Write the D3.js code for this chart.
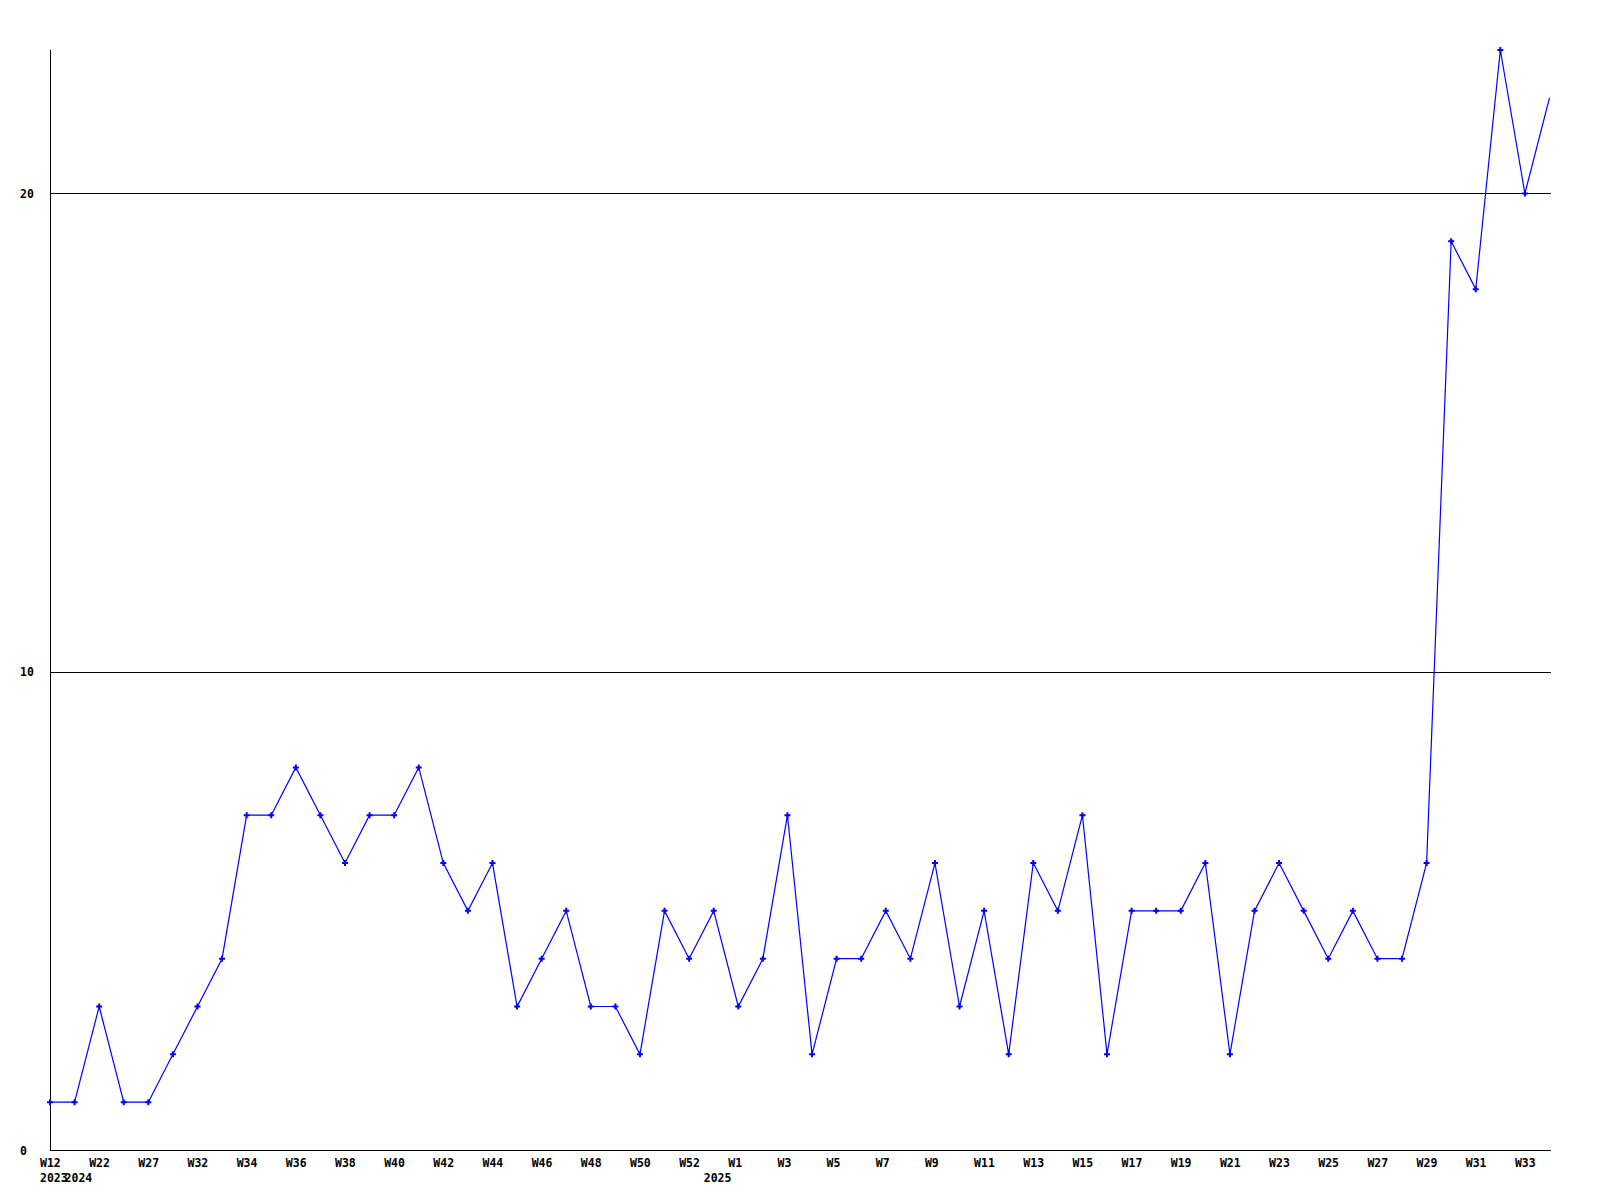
<!DOCTYPE html>
<html>
<head>
<meta charset="utf-8">
<script src="https://cdn.jsdelivr.net/npm/d3@7"></script>
<style>
  html, body { margin: 0; padding: 0; background: #ffffff; }
  svg { display: block; }
  text { font-family: "DejaVu Sans Mono", "Liberation Mono", monospace; font-weight: bold; font-size: 11.5px; fill: #000; }
</style>
</head>
<body>
<svg id="chart" width="1600" height="1200"></svg>
<script>
// ---- data ----
const values = [1, 1, 3, 1, 1, 2, 3, 4, 7, 7, 8, 7, 6, 7, 7, 8, 6, 5, 6, 3,
                4, 5, 3, 3, 2, 5, 4, 5, 3, 4, 7, 2, 4, 4, 5, 4, 6, 3, 5, 2,
                6, 5, 7, 2, 5, 5, 5, 6, 2, 5, 6, 5, 4, 5, 4, 4, 6, 19, 18, 23,
                20, 22];
const weekTickIndex = [0, 2, 4, 6, 8, 10, 12, 14, 16, 18, 20, 22, 24, 26, 28, 30,
                       32, 34, 36, 38, 40, 42, 44, 46, 48, 50, 52, 54, 56, 58, 60];
const weekTickLabels = ["W12", "W22", "W27", "W32", "W34", "W36", "W38", "W40", "W42", "W44",
                        "W46", "W48", "W50", "W52", "W1", "W3", "W5", "W7", "W9", "W11",
                        "W13", "W15", "W17", "W19", "W21", "W23", "W25", "W27", "W29", "W31", "W33"];
const yearTickIndex = [0, 1, 27];
const yearTickLabels = ["2023", "2024", "2025"];
const yTicks = [0, 10, 20];
const yMax = 23;

// ---- layout ----
const mLeft = 50, mRight = 1551, mTop = 50, mBottom = 1150;
const lastX = 1549.5;
const svg = d3.select("#chart");

const x = d3.scaleLinear().domain([0, values.length - 1]).range([mLeft, lastX]);
const y = d3.scaleLinear().domain([0, yMax]).range([mBottom, mTop]);

// gridlines
svg.append("g")
  .selectAll("line")
  .data(yTicks.filter(d => d > 0))
  .join("line")
  .attr("x1", mLeft).attr("x2", mRight)
  .attr("y1", d => Math.round(y(d)) + 0.5).attr("y2", d => Math.round(y(d)) + 0.5)
  .attr("stroke", "#000").attr("stroke-width", 1);

// y axis
const yAxis = svg.append("g")
  .attr("transform", `translate(${mLeft + 0.5},0)`)
  .call(d3.axisLeft(y).tickValues(yTicks).tickSize(0).tickFormat(d3.format("d")));
yAxis.select(".domain").attr("stroke", "#000").attr("d", `M0,${mTop}V${mBottom + 0.5}`);
yAxis.selectAll("text")
  .attr("x", 20 - mLeft - 0.5)
  .attr("text-anchor", "start")
  .attr("dy", "0.35em")
  .style("font-family", "DejaVu Sans Mono, monospace")
  .style("font-size", "11.5px")
  .style("font-weight", "bold");

// x axis (weeks)
const xAxis = svg.append("g")
  .attr("transform", `translate(0,${mBottom + 0.5})`)
  .call(d3.axisBottom(x).tickValues(weekTickIndex).tickSize(0)
        .tickFormat((d, i) => weekTickLabels[i]));
xAxis.select(".domain").attr("stroke", "#000").attr("d", `M${mLeft},0H${mRight}`);
xAxis.selectAll("text")
  .attr("text-anchor", "start")
  .attr("x", -10.5)
  .attr("y", 16)
  .attr("dy", null)
  .style("font-family", "DejaVu Sans Mono, monospace")
  .style("font-size", "11.5px")
  .style("font-weight", "bold");

// x axis (years)
const xYear = svg.append("g")
  .attr("transform", `translate(0,${mBottom + 0.5})`)
  .call(d3.axisBottom(x).tickValues(yearTickIndex).tickSize(0)
        .tickFormat((d, i) => yearTickLabels[i]));
xYear.select(".domain").remove();
xYear.selectAll("text")
  .attr("text-anchor", "start")
  .attr("x", -10.5)
  .attr("y", 31.5)
  .attr("dy", null)
  .style("font-family", "DejaVu Sans Mono, monospace")
  .style("font-size", "11.5px")
  .style("font-weight", "bold");

// line
const line = d3.line().x((d, i) => x(i)).y(d => y(d));
svg.append("path")
  .datum(values)
  .attr("d", line)
  .attr("fill", "none")
  .attr("stroke", "#0000ff")
  .attr("stroke-width", 1.2);

// markers (last, incomplete week has none)
const cross = d3.symbol().type(d3.symbolCross).size(20);
svg.append("g")
  .selectAll("path")
  .data(values.slice(0, values.length - 1))
  .join("path")
  .attr("d", cross)
  .attr("transform", (d, i) => `translate(${x(i)},${y(d)})`)
  .attr("fill", "#0000ff");
</script>
</body>
</html>
